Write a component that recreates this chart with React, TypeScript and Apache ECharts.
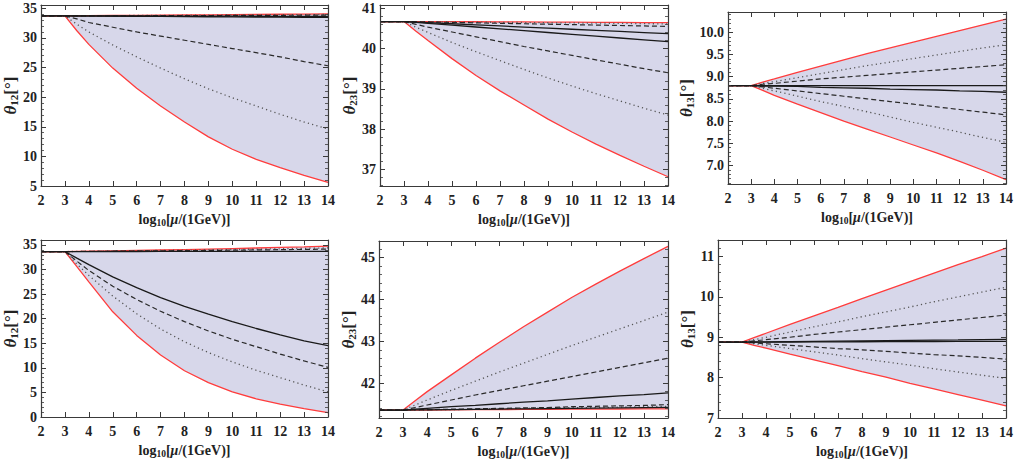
import React, { useEffect, useRef } from 'react';
import * as echarts from 'echarts';

// shared abscissa: log10[mu/(1GeV)]
const X = [2, 3, 3.5, 4, 5, 6, 7, 8, 9, 10, 11, 12, 13, 14];

// ---- top-left: theta12 ----
const p1RedUp = [33.7, 33.7, 33.72, 33.75, 33.78, 33.81, 33.84, 33.87, 33.9, 33.93, 33.96, 33.99, 34.02, 34.05];
const p1DotUp = [33.7, 33.7, 33.71, 33.73, 33.76, 33.78, 33.8, 33.82, 33.85, 33.87, 33.89, 33.91, 33.93, 33.95];
const p1DashUp = [33.7, 33.7, 33.7, 33.71, 33.72, 33.73, 33.75, 33.76, 33.77, 33.79, 33.8, 33.81, 33.83, 33.85];
const p1SolidUp = [33.7, 33.7, 33.7, 33.7, 33.69, 33.69, 33.68, 33.67, 33.67, 33.66, 33.65, 33.64, 33.63, 33.62];
const p1SolidLo = [33.7, 33.7, 33.69, 33.68, 33.66, 33.64, 33.62, 33.6, 33.57, 33.55, 33.52, 33.5, 33.47, 33.45];
const p1DashLo = [33.7, 33.7, 33.2, 32.6, 31.8, 31.0, 30.3, 29.6, 28.9, 28.2, 27.5, 26.8, 26.0, 25.3];
const p1DotLo = [33.7, 33.7, 32.3, 31.0, 28.8, 26.8, 24.9, 23.1, 21.4, 19.9, 18.5, 17.1, 15.8, 14.6];
const p1RedLo = [33.7, 33.7, 31.2, 28.9, 24.9, 21.5, 18.5, 15.8, 13.3, 11.2, 9.5, 8.1, 6.8, 5.6];

// ---- top-middle: theta23 ----
const p2RedUp = [40.67, 40.67, 40.67, 40.67, 40.668, 40.665, 40.662, 40.66, 40.657, 40.654, 40.651, 40.648, 40.645, 40.642];
const p2DotUp = [40.67, 40.67, 40.668, 40.665, 40.66, 40.655, 40.65, 40.645, 40.64, 40.635, 40.63, 40.625, 40.618, 40.61];
const p2DashUp = [40.67, 40.67, 40.664, 40.659, 40.648, 40.637, 40.626, 40.615, 40.604, 40.593, 40.582, 40.571, 40.56, 40.55];
const p2SolidUp = [40.67, 40.67, 40.656, 40.643, 40.615, 40.588, 40.56, 40.533, 40.506, 40.479, 40.452, 40.424, 40.397, 40.37];
const p2SolidLo = [40.67, 40.67, 40.647, 40.625, 40.58, 40.534, 40.489, 40.443, 40.398, 40.352, 40.307, 40.261, 40.216, 40.17];
const p2DashLo = [40.67, 40.67, 40.6, 40.53, 40.41, 40.29, 40.17, 40.05, 39.94, 39.83, 39.72, 39.61, 39.5, 39.4];
const p2DotLo = [40.67, 40.67, 40.53, 40.4, 40.15, 39.92, 39.7, 39.48, 39.27, 39.07, 38.88, 38.7, 38.52, 38.35];
const p2RedLo = [40.67, 40.67, 40.43, 40.2, 39.75, 39.33, 38.95, 38.6, 38.25, 37.93, 37.63, 37.35, 37.08, 36.82];

// ---- top-right: theta13 ----
const p3RedUp = [8.8, 8.8, 8.88, 8.95, 9.1, 9.24, 9.38, 9.52, 9.65, 9.78, 9.91, 10.04, 10.17, 10.3];
const p3DotUp = [8.8, 8.8, 8.85, 8.89, 8.98, 9.07, 9.16, 9.25, 9.33, 9.41, 9.49, 9.57, 9.65, 9.72];
const p3DashUp = [8.8, 8.8, 8.83, 8.85, 8.9, 8.95, 8.99, 9.03, 9.07, 9.11, 9.15, 9.19, 9.23, 9.27];
const p3SolidUp = [8.8, 8.8, 8.8, 8.8, 8.8, 8.8, 8.8, 8.8, 8.8, 8.8, 8.8, 8.8, 8.8, 8.8];
const p3SolidLo = [8.8, 8.8, 8.79, 8.79, 8.78, 8.76, 8.75, 8.74, 8.72, 8.71, 8.7, 8.68, 8.67, 8.65];
const p3DashLo = [8.8, 8.8, 8.77, 8.74, 8.68, 8.62, 8.56, 8.5, 8.44, 8.38, 8.32, 8.26, 8.2, 8.14];
const p3DotLo = [8.8, 8.8, 8.74, 8.68, 8.56, 8.44, 8.33, 8.21, 8.09, 7.97, 7.86, 7.75, 7.63, 7.52];
const p3RedLo = [8.8, 8.8, 8.69, 8.58, 8.38, 8.19, 8.0, 7.82, 7.64, 7.46, 7.28, 7.09, 6.89, 6.68];

// ---- bottom-left: theta12 ----
const p4RedUp = [33.65, 33.65, 33.68, 33.72, 33.8, 33.88, 33.97, 34.06, 34.16, 34.26, 34.37, 34.48, 34.6, 34.75];
const p4DotUp = [33.65, 33.65, 33.67, 33.7, 33.76, 33.82, 33.88, 33.94, 34.0, 34.07, 34.14, 34.21, 34.3, 34.4];
const p4DashUp = [33.65, 33.65, 33.66, 33.68, 33.72, 33.76, 33.8, 33.84, 33.88, 33.93, 33.98, 34.03, 34.09, 34.15];
const p4SolidUp = [33.65, 33.65, 33.65, 33.65, 33.66, 33.66, 33.67, 33.67, 33.68, 33.68, 33.69, 33.69, 33.7, 33.7];
const p4SolidLo = [33.65, 33.65, 32.3, 31.0, 28.5, 26.3, 24.3, 22.5, 20.9, 19.4, 18.0, 16.7, 15.5, 14.5];
const p4DashLo = [33.65, 33.65, 31.7, 29.8, 26.6, 23.9, 21.5, 19.4, 17.5, 15.8, 14.3, 12.8, 11.4, 10.1];
const p4DotLo = [33.65, 33.65, 31.1, 28.8, 24.6, 21.0, 17.9, 15.3, 13.1, 11.2, 9.5, 8.0, 6.5, 5.1];
const p4RedLo = [33.65, 33.65, 30.6, 27.5, 21.4, 16.6, 12.6, 9.4, 7.0, 5.1, 3.7, 2.6, 1.7, 0.9];

// ---- bottom-middle: theta23 ----
const p5RedUp = [41.36, 41.36, 41.58, 41.8, 42.2, 42.6, 42.98, 43.35, 43.7, 44.05, 44.37, 44.68, 44.98, 45.27];
const p5DotUp = [41.36, 41.36, 41.48, 41.6, 41.83, 42.05, 42.27, 42.48, 42.69, 42.9, 43.1, 43.3, 43.5, 43.7];
const p5DashUp = [41.36, 41.36, 41.42, 41.48, 41.6, 41.72, 41.83, 41.94, 42.05, 42.16, 42.27, 42.38, 42.49, 42.6];
const p5SolidUp = [41.36, 41.36, 41.38, 41.4, 41.44, 41.47, 41.51, 41.55, 41.58, 41.62, 41.66, 41.7, 41.73, 41.77];
const p5SolidLo = [41.36, 41.36, 41.363, 41.366, 41.372, 41.378, 41.384, 41.39, 41.396, 41.402, 41.408, 41.414, 41.42, 41.425];
const p5DashLo = [41.36, 41.36, 41.37, 41.37, 41.38, 41.39, 41.4, 41.41, 41.42, 41.44, 41.45, 41.46, 41.47, 41.49];
const p5DotLo = [41.36, 41.36, 41.36, 41.37, 41.37, 41.38, 41.39, 41.4, 41.41, 41.42, 41.42, 41.43, 41.44, 41.45];
const p5RedLo = [41.36, 41.36, 41.36, 41.36, 41.365, 41.37, 41.372, 41.375, 41.378, 41.38, 41.383, 41.385, 41.388, 41.39];

// ---- bottom-right: theta13 ----
const p6RedUp = [8.88, 8.88, 8.99, 9.1, 9.32, 9.53, 9.74, 9.96, 10.17, 10.38, 10.59, 10.8, 11.0, 11.21];
const p6DotUp = [8.88, 8.88, 8.94, 9.0, 9.13, 9.26, 9.38, 9.51, 9.63, 9.75, 9.88, 10.0, 10.12, 10.24];
const p6DashUp = [8.88, 8.88, 8.91, 8.94, 9.0, 9.07, 9.13, 9.19, 9.25, 9.31, 9.37, 9.43, 9.49, 9.55];
const p6SolidUp = [8.88, 8.88, 8.883, 8.886, 8.892, 8.898, 8.904, 8.91, 8.916, 8.922, 8.928, 8.934, 8.942, 8.95];
const p6SolidLo = [8.88, 8.88, 8.88, 8.881, 8.883, 8.885, 8.887, 8.889, 8.891, 8.893, 8.895, 8.896, 8.898, 8.9];
const p6DashLo = [8.88, 8.88, 8.86, 8.84, 8.8, 8.76, 8.72, 8.69, 8.65, 8.61, 8.57, 8.54, 8.5, 8.46];
const p6DotLo = [8.88, 8.88, 8.84, 8.8, 8.72, 8.64, 8.56, 8.47, 8.39, 8.31, 8.22, 8.14, 8.06, 7.98];
const p6RedLo = [8.88, 8.88, 8.8, 8.73, 8.58, 8.44, 8.3, 8.15, 8.01, 7.86, 7.72, 7.58, 7.44, 7.3];

// axis labels
const Y_SUBS = ['12', '23', '13', '12', '23', '13'];
const Y_MIN = [5, 36.59, 6.58, 0, 41.17, 7];
const Y_MAX = [35.55, 41.08, 10.46, 36, 45.4, 11.41];
const Y_STEP = [5, 1, 0.5, 5, 1, 1];
const Y_DEC = [0, 0, 1, 0, 0, 0];
const X_MIN = 2;
const X_MAX = 14;
const X_STEP = 1;

const FONT = '"Liberation Serif", "Times New Roman", serif';
const INK = '#222';
const FRAME = '#3a3a3a';
const RED = '#ff3c3c';
const FILL = '#d7d7ea';

const GRIDS = [
  { left: 41, top: 5, width: 287, height: 181 },
  { left: 380, top: 5, width: 288, height: 181 },
  { left: 728, top: 12, width: 278, height: 172 },
  { left: 41, top: 240, width: 287, height: 177 },
  { left: 379, top: 241, width: 289, height: 177 },
  { left: 718, top: 240, width: 288, height: 178 },
];
const Y_NAME_GAP = [21, 21, 30, 21, 21, 21];

const PANELS = [
  [p1RedUp, p1DotUp, p1DashUp, p1SolidUp, p1SolidLo, p1DashLo, p1DotLo, p1RedLo],
  [p2RedUp, p2DotUp, p2DashUp, p2SolidUp, p2SolidLo, p2DashLo, p2DotLo, p2RedLo],
  [p3RedUp, p3DotUp, p3DashUp, p3SolidUp, p3SolidLo, p3DashLo, p3DotLo, p3RedLo],
  [p4RedUp, p4DotUp, p4DashUp, p4SolidUp, p4SolidLo, p4DashLo, p4DotLo, p4RedLo],
  [p5RedUp, p5DotUp, p5DashUp, p5SolidUp, p5SolidLo, p5DashLo, p5DotLo, p5RedLo],
  [p6RedUp, p6DotUp, p6DashUp, p6SolidUp, p6SolidLo, p6DashLo, p6DotLo, p6RedLo],
];

function buildOption() {
  const xAxis: any[] = [];
  const yAxis: any[] = [];
  const series: any[] = [];

  const labelStyle = { fontFamily: FONT, fontWeight: 'bold', fontSize: 14, color: INK };
  const nameRich = {
    t: { fontFamily: FONT, fontSize: 17, fontWeight: 'bold', fontStyle: 'italic', color: INK },
    n: { fontFamily: FONT, fontSize: 17, fontWeight: 'bold', color: INK },
    s: { fontFamily: FONT, fontSize: 11, fontWeight: 'bold', color: INK, padding: [7, 0, 0, 0] },
  };
  const xRich = {
    n: { fontFamily: FONT, fontSize: 14, fontWeight: 'bold', color: INK },
    i: { fontFamily: FONT, fontSize: 14, fontWeight: 'bold', fontStyle: 'italic', color: INK },
    s: { fontFamily: FONT, fontSize: 9.5, fontWeight: 'bold', color: INK, padding: [7, 0, 0, 0] },
  };

  for (let pass = 0; pass < 2; pass++) {
    for (let i = 0; i < 6; i++) {
      const main = pass === 0;
      xAxis.push({
        type: 'value',
        gridIndex: i,
        position: main ? 'bottom' : 'top',
        min: X_MIN,
        max: X_MAX,
        interval: X_STEP,
        axisLine: { show: true, onZero: false, lineStyle: { color: FRAME, width: 1.2 } },
        axisTick: { show: true, inside: true, length: 5, lineStyle: { color: FRAME, width: 1 } },
        axisLabel: { show: main, margin: 7, ...labelStyle },
        splitLine: { show: false },
        name: main ? '{n|log}{s|10}{n|[}{i|μ}{n|/(1GeV)]}' : '',
        nameLocation: 'middle',
        nameGap: 25,
        nameTextStyle: { rich: xRich },
        z: 5,
      });
      const step = Y_STEP[i];
      const dec = Y_DEC[i];
      yAxis.push({
        type: 'value',
        gridIndex: i,
        position: main ? 'left' : 'right',
        min: Y_MIN[i],
        max: Y_MAX[i],
        splitNumber: Math.round((Y_MAX[i] - Y_MIN[i]) / step),
        axisLine: { show: true, onZero: false, lineStyle: { color: FRAME, width: 1.2 } },
        axisTick: { show: true, inside: true, length: 5, lineStyle: { color: FRAME, width: 1 } },
        minorTick: { show: true, splitNumber: 5, length: 3, lineStyle: { color: FRAME, width: 0.8 } },
        axisLabel: {
          show: main,
          margin: 4,
          ...labelStyle,
          formatter: (v: number) => {
            const k = v / step;
            if (Math.abs(k - Math.round(k)) > 1e-6) return '';
            return v.toFixed(dec);
          },
        },
        splitLine: { show: false },
        minorSplitLine: { show: false },
        name: main ? `{t|θ}{s|${Y_SUBS[i]}}{n|[°]}` : '',
        nameLocation: 'middle',
        nameGap: Y_NAME_GAP[i],
        nameTextStyle: { rich: nameRich },
        z: 5,
      });
    }
  }

  for (let i = 0; i < 6; i++) {
    const [redUp, dotUp, dashUp, solidUp, solidLo, dashLo, dotLo, redLo] = PANELS[i];
    // shaded band between the two red curves
    series.push({
      type: 'custom',
      xAxisIndex: i,
      yAxisIndex: i,
      silent: true,
      clip: true,
      data: [[X[0], redLo[0]]],
      renderItem: (_params: any, api: any) => {
        const upper = X.map((x, k) => api.coord([x, redUp[k]]));
        const lower = X.map((x, k) => api.coord([x, redLo[k]])).reverse();
        return {
          type: 'polygon',
          shape: { points: upper.concat(lower) },
          style: { fill: FILL, stroke: 'none' },
        };
      },
      z: 1,
    });
    const common = { type: 'line', xAxisIndex: i, yAxisIndex: i, symbol: 'none', silent: true, z: 2 };
    const line = (arr: number[], color: string, type: any, width: number) => ({
      ...common,
      data: X.map((x, k) => [x, arr[k]]),
      lineStyle: { color, type, width },
    });
    series.push(line(redLo, RED, 'solid', 1.3));
    series.push(line(redUp, RED, 'solid', 1.3));
    series.push(line(dotLo, '#555', [1.2, 3.2], 1.3));
    series.push(line(dotUp, '#555', [1.2, 3.2], 1.3));
    series.push(line(dashLo, '#2a2a2a', [5, 3], 1.2));
    series.push(line(dashUp, '#2a2a2a', [5, 3], 1.2));
    series.push(line(solidLo, '#1a1a1a', 'solid', 1.3));
    series.push(line(solidUp, '#1a1a1a', 'solid', 1.3));
  }

  return {
    animation: false,
    backgroundColor: '#ffffff',
    grid: GRIDS.map((g) => ({ ...g, containLabel: false, show: false })),
    xAxis,
    yAxis,
    series,
  };
}

export default function App() {
  const ref = useRef<HTMLDivElement>(null);
  useEffect(() => {
    if (!ref.current) return;
    const chart = echarts.init(ref.current, null, { renderer: 'svg' });
    chart.setOption(buildOption() as any);
    return () => chart.dispose();
  }, []);
  return (
    <div
      ref={ref}
      style={{ position: 'absolute', left: 0, top: 0, width: 1022, height: 461, background: '#fff' }}
    />
  );
}
